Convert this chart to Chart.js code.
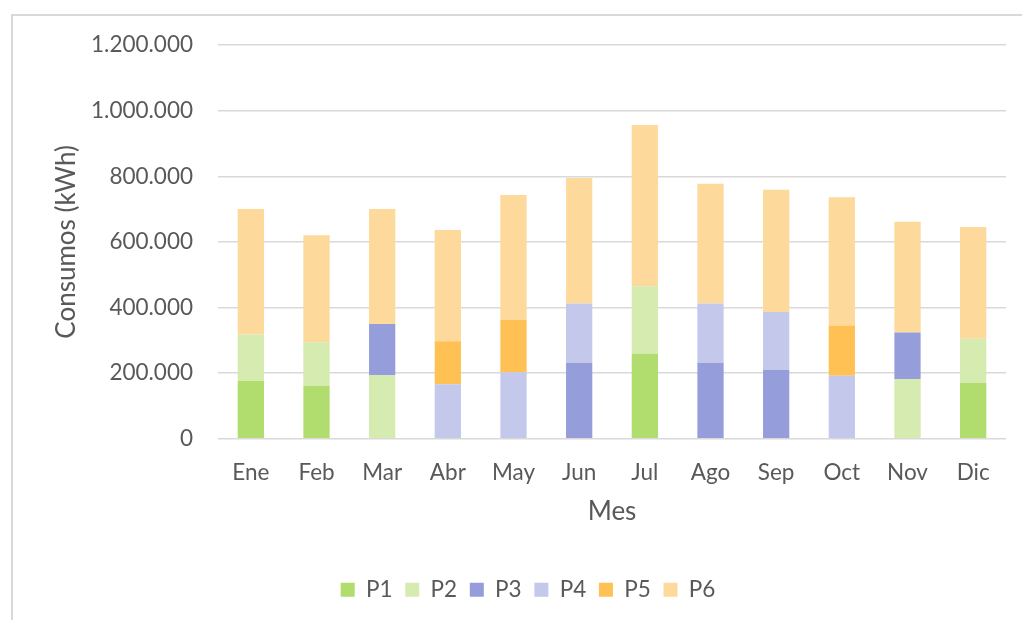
<!DOCTYPE html>
<html>
<head>
<meta charset="utf-8">
<script src="https://cdn.jsdelivr.net/npm/chart.js@4"></script>
<style>
  body { margin: 0; overflow: hidden; background: #fff; }
  #frame { position: absolute; left: 11px; top: 14px; width: 1100px; height: 700px;
           border-left: 2px solid #d9d9d9; border-top: 2px solid #d9d9d9; }
  #wrap { position: absolute; left: 11px; top: 14px; width: 1035px; height: 620px; }
</style>
</head>
<body>
<div id="frame"></div>
<div id="wrap"><canvas id="myChart"></canvas></div>
<script>
// Monthly consumption per tariff period
const months = ['Ene', 'Feb', 'Mar', 'Abr', 'May', 'Jun', 'Jul', 'Ago', 'Sep', 'Oct', 'Nov', 'Dic'];
const p1 = [177000, 161000, null, null, null, null, 259000, null, null, null, null, 171000];
const p2 = [141000, 133000, 194000, null, null, null, 206000, null, null, null, 182000, 134000];
const p3 = [null, null, 156000, null, null, 232000, null, 232000, 210000, null, 142000, null];
const p4 = [null, null, null, 166000, 203000, 180000, null, 180000, 176000, 192000, null, null];
const p5 = [null, null, null, 131000, 160000, null, null, null, null, 153000, null, null];
const p6 = [382000, 326000, 350000, 339000, 380000, 383000, 491000, 365000, 373000, 391000, 337000, 340000];

const textColor = '#595959';
const fontFamily = 'Lato, "Open Sans", sans-serif';

function fmt(v) {
  return String(v).replace(/\B(?=(\d{3})+(?!\d))/g, '.');
}

document.addEventListener("DOMContentLoaded", function () {
  const ctx = document.getElementById('myChart').getContext('2d');

  new Chart(ctx, {
    type: 'bar',
    data: {
      labels: months,
      datasets: [
        { label: 'P1', data: p1, backgroundColor: '#B1DC6E' },
        { label: 'P2', data: p2, backgroundColor: '#D5EBAF' },
        { label: 'P3', data: p3, backgroundColor: '#959EDB' },
        { label: 'P4', data: p4, backgroundColor: '#C4C8EB' },
        { label: 'P5', data: p5, backgroundColor: '#FFC154' },
        { label: 'P6', data: p6, backgroundColor: '#FDDA9B' }
      ]
    },
    options: {
      responsive: true,
      maintainAspectRatio: false,
      animation: false,
      barPercentage: 0.4,
      categoryPercentage: 1.0,
      // left padding keeps the legend centred like the original frame
      layout: { padding: { top: 31, right: 40, left: 39, bottom: 23 } },
      plugins: {
        tooltip: { enabled: false },
        legend: {
          display: true,
          position: 'bottom',
          labels: {
            boxWidth: 14,
            boxHeight: 14,
            padding: 12.75,
            color: textColor,
            font: { family: fontFamily, size: 22.5 }
          }
        }
      },
      scales: {
        x: {
          stacked: true,
          grid: { display: false, drawTicks: false },
          border: { display: false },
          ticks: { color: textColor, padding: 20, font: { family: fontFamily, size: 22.5 } },
          title: {
            display: true,
            text: 'Mes',
            color: textColor,
            font: { family: fontFamily, size: 26 },
            padding: { top: 0, bottom: 38.25 }
          },
          afterFit: function (scale) { scale.height = 127; }
        },
        y: {
          stacked: true,
          min: 0,
          max: 1200000,
          grid: { color: '#d9d9d9', lineWidth: 1.5, drawTicks: false },
          border: { display: false },
          ticks: {
            stepSize: 200000,
            padding: 25,
            color: textColor,
            font: { family: fontFamily, size: 22.5 },
            callback: function (v) { return fmt(v); }
          },
          title: {
            display: true,
            text: 'Consumos (kWh)',
            color: textColor,
            font: { family: fontFamily, size: 26 },
            padding: { top: 1.4, bottom: 0 }
          },
          afterFit: function (scale) {
            scale.width = 168;
            // tick padding should not push the plot area down
            scale.paddingTop = 0;
            scale.paddingBottom = 0;
          }
        }
      }
    }
  });
});
</script>
</body>
</html>
